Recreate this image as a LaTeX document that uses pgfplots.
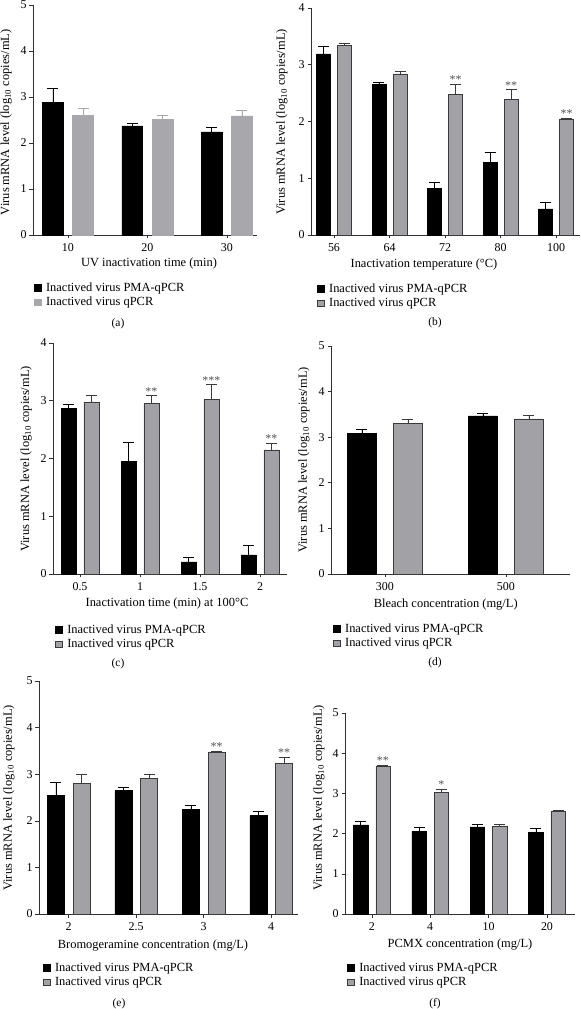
\documentclass[border=0pt]{standalone}
\usepackage{fontspec}
\setmainfont{Liberation Serif}
\usepackage{pgfplots}
\pgfplotsset{compat=1.18}
\definecolor{bargray}{HTML}{A2A2A6}
\definecolor{lightgray}{HTML}{A8A8AC}
\definecolor{edgegray}{HTML}{3A3A3A}
\definecolor{axisgray}{HTML}{303030}
\definecolor{stargray}{HTML}{505050}
\newcommand{\fs}{\fontsize{12.5}{14}\selectfont}
\newcommand{\ft}{\fontsize{12}{14}\selectfont}
\tikzset{stars/.style={anchor=base, yshift=0.5bp, font=\fontsize{12}{14}\selectfont, text=stargray, inner sep=0pt}}
\pgfplotsset{
  legend image code/.code={\draw[#1, line width=0.5pt] (0bp,-3.25bp) rectangle (6.5bp,3.25bp);},
  panel/.style={
    scale only axis, anchor=south west, clip=false,
    axis x line=bottom, axis y line=left,
    axis line style={-, line width=0.6pt, axisgray},
    every tick/.style={line width=0.6pt, axisgray},
    tick align=outside,
    major tick length=3.5bp,
    ymin=0,
    tick label style={font=\ft, black},
    yticklabel style={xshift=0.5bp},
    xticklabel style={yshift=-1.5bp},
    label style={font=\fs},
    /pgf/number format/assume math mode=true,
    ylabel={Virus mRNA level (log\textsubscript{10} copies/mL)},
    ylabel style={anchor=center},
    xlabel style={anchor=center},
    legend style={draw=none, fill=none, anchor=north west, inner sep=0pt, row sep=4.5bp,
       font=\fs, nodes={inner sep=0pt}, /tikz/every odd column/.style={column sep=5bp}},
    legend cell align=left,
  },
  pma/.style={ybar, bar shift=0pt, fill=black, draw=black, line width=0.5pt,
    error bars/y dir=plus, error bars/y explicit,
    error bars/error bar style={black, line width=0.6pt},
    error bars/error mark options={rotate=90, mark size=5.5bp, line width=0.6pt, black}},
  qp/.style={ybar, bar shift=0pt, fill=bargray, draw=edgegray, line width=0.5pt,
    error bars/y dir=plus, error bars/y explicit,
    error bars/error bar style={edgegray, line width=0.6pt},
    error bars/error mark options={rotate=90, mark size=5.5bp, line width=0.6pt, edgegray}},
  qpa/.style={ybar, bar shift=0pt, fill=lightgray, draw=lightgray, line width=0.5pt,
    error bars/y dir=plus, error bars/y explicit,
    error bars/error bar style={lightgray, line width=0.6pt},
    error bars/error mark options={rotate=90, mark size=5.5bp, line width=0.6pt, lightgray}},
}
\begin{document}
\begin{tikzpicture}
\path[use as bounding box] (0bp,0bp) rectangle (581bp,1009bp);
% (a)
\begin{axis}[panel, at={(33bp,774bp)}, width=224bp, height=230bp,
  xmin=-0.44, xmax=2.38, ymax=5, ytick={0,1,2,3,4,5},
  xtick={0,1,2}, xticklabels={10,20,30},
  xlabel={UV inactivation time (min)},
  xlabel style={at={(axis description cs:0.518,-0.126)}},
  ylabel style={at={(axis description cs:-0.12,0.49)}},
  legend style={at={(axis description cs:0.004,-0.206)}}]
\addplot[pma, bar width=0.26] coordinates {(-0.19,2.89) +- (0,0.29) (0.81,2.37) +- (0,0.05) (1.81,2.24) +- (0,0.11)};
\addplot[qpa, bar width=0.26] coordinates {(0.19,2.60) +- (0,0.15) (1.19,2.51) +- (0,0.09) (2.19,2.59) +- (0,0.13)};
\legend{Inactived virus PMA-qPCR, Inactived virus qPCR}
\end{axis}
% (b)
\begin{axis}[panel, at={(311bp,774bp)}, width=269bp, height=227bp,
  xmin=-0.414, xmax=4.43, ymax=4, ytick={0,1,2,3,4},
  xtick={0,1,2,3,4}, xticklabels={56,64,72,80,100},
  xlabel={Inactivation temperature (°C)}, ylabel={},
  xlabel style={at={(axis description cs:0.42,-0.128)}},
  legend style={at={(axis description cs:0.022,-0.213)}}]
\addplot[pma, bar width=0.25] coordinates {(-0.19,3.19) +- (0,0.13) (0.81,2.65) +- (0,0.04) (1.81,0.82) +- (0,0.11) (2.81,1.28) +- (0,0.18) (3.81,0.46) +- (0,0.12)};
\addplot[qp, bar width=0.25] coordinates {(0.19,3.34) +- (0,0.04) (1.19,2.84) +- (0,0.05) (2.19,2.48) +- (0,0.18) (3.19,2.39) +- (0,0.17) (4.19,2.04) +- (0,0.02)};
\legend{Inactived virus PMA-qPCR, Inactived virus qPCR}
\node[stars] at (axis cs:2.19,2.66) {**};
\node[stars] at (axis cs:3.19,2.56) {**};
\node[stars] at (axis cs:4.19,2.06) {**};
\end{axis}
\node[font=\fs, rotate=90] at (282bp,887bp) {Virus mRNA level (log\textsubscript{10} copies/mL)};
% (c)
\begin{axis}[panel, at={(53bp,435bp)}, width=234bp, height=231bp,
  xmin=-0.45, xmax=3.45, ymax=4, ytick={0,1,2,3,4},
  xtick={0,1,2,3}, xticklabels={0.5,1,1.5,2},
  xlabel={Inactivation time (min) at 100°C},
  xlabel style={at={(axis description cs:0.487,-0.128)}},
  ylabel style={at={(axis description cs:-0.115,0.498)}},
  legend style={at={(axis description cs:0.009,-0.218)}}]
\addplot[pma, bar width=0.25] coordinates {(-0.19,2.87) +- (0,0.07) (0.81,1.95) +- (0,0.33) (1.81,0.21) +- (0,0.08) (2.81,0.33) +- (0,0.16)};
\addplot[qp, bar width=0.25] coordinates {(0.19,2.98) +- (0,0.12) (1.19,2.96) +- (0,0.13) (2.19,3.03) +- (0,0.25) (3.19,2.15) +- (0,0.11)};
\legend{Inactived virus PMA-qPCR, Inactived virus qPCR}
\node[stars] at (axis cs:1.19,3.09) {**};
\node[stars] at (axis cs:2.19,3.28) {***};
\node[stars] at (axis cs:3.19,2.26) {**};
\end{axis}
% (d)
\begin{axis}[panel, at={(331bp,435bp)}, width=239bp, height=228bp,
  xmin=-0.446, xmax=1.53, ymax=5, ytick={0,1,2,3,4,5},
  xtick={0,1}, xticklabels={300,500},
  xlabel={Bleach concentration (mg/L)},
  xlabel style={at={(axis description cs:0.48,-0.136)}},
  ylabel style={at={(axis description cs:-0.113,0.5)}},
  legend style={at={(axis description cs:0.008,-0.217)}}]
\addplot[pma, bar width=0.24] coordinates {(-0.19,3.08) +- (0,0.10) (0.81,3.47) +- (0,0.06)};
\addplot[qp, bar width=0.24] coordinates {(0.19,3.30) +- (0,0.10) (1.19,3.40) +- (0,0.07)};
\legend{Inactived virus PMA-qPCR, Inactived virus qPCR}
\end{axis}
% (e)
\begin{axis}[panel, at={(39bp,95bp)}, width=259bp, height=233bp,
  xmin=-0.44, xmax=3.397, ymax=5, ytick={0,1,2,3,4,5},
  xtick={0,1,2,3}, xticklabels={2,2.5,3,4},
  xlabel={Bromogeramine concentration (mg/L)},
  xlabel style={at={(axis description cs:0.44,-0.137)}},
  ylabel style={at={(axis description cs:-0.116,0.498)}},
  legend style={at={(axis description cs:0.015,-0.208)}}]
\addplot[pma, bar width=0.25] coordinates {(-0.19,2.55) +- (0,0.28) (0.81,2.65) +- (0,0.07) (1.81,2.24) +- (0,0.10) (2.81,2.11) +- (0,0.10)};
\addplot[qp, bar width=0.25] coordinates {(0.19,2.81) +- (0,0.18) (1.19,2.91) +- (0,0.08) (2.19,3.47) +- (0,0.03) (3.19,3.24) +- (0,0.12)};
\legend{Inactived virus PMA-qPCR, Inactived virus qPCR}
\node[stars] at (axis cs:2.19,3.50) {**};
\node[stars] at (axis cs:3.19,3.36) {**};
\end{axis}
% (f)
\begin{axis}[panel, at={(345bp,95bp)}, width=230bp, height=201bp,
  xmin=-0.46, xmax=3.48, ymax=5, ytick={0,1,2,3,4,5},
  xtick={0,1,2,3}, xticklabels={2,4,10,20},
  xlabel={PCMX concentration (mg/L)},
  xlabel style={at={(axis description cs:0.5,-0.152)}},
  ylabel style={at={(axis description cs:-0.113,0.577)}},
  legend style={at={(axis description cs:0.009,-0.241)}}]
\addplot[pma, bar width=0.245] coordinates {(-0.19,2.22) +- (0,0.09) (0.81,2.06) +- (0,0.10) (1.81,2.17) +- (0,0.05) (2.81,2.03) +- (0,0.10)};
\addplot[qp, bar width=0.245] coordinates {(0.19,3.67) +- (0,0.03) (1.19,3.03) +- (0,0.08) (2.19,2.19) +- (0,0.03) (3.19,2.56) +- (0,0.02)};
\legend{Inactived virus PMA-qPCR, Inactived virus qPCR}
\node[stars] at (axis cs:0.19,3.70) {**};
\node[stars] at (axis cs:1.19,3.11) {*};
\end{axis}
% panel letters
\node[font=\fontsize{11.5}{13}\selectfont] at (118bp,685bp) {(a)};
\node[font=\fontsize{11.5}{13}\selectfont] at (435bp,686bp) {(b)};
\node[font=\fontsize{11.5}{13}\selectfont] at (118bp,345bp) {(c)};
\node[font=\fontsize{11.5}{13}\selectfont] at (435bp,346bp) {(d)};
\node[font=\fontsize{11.5}{13}\selectfont] at (119bp,5bp) {(e)};
\node[font=\fontsize{11.5}{13}\selectfont] at (435bp,5bp) {(f)};
\end{tikzpicture}
\end{document}
